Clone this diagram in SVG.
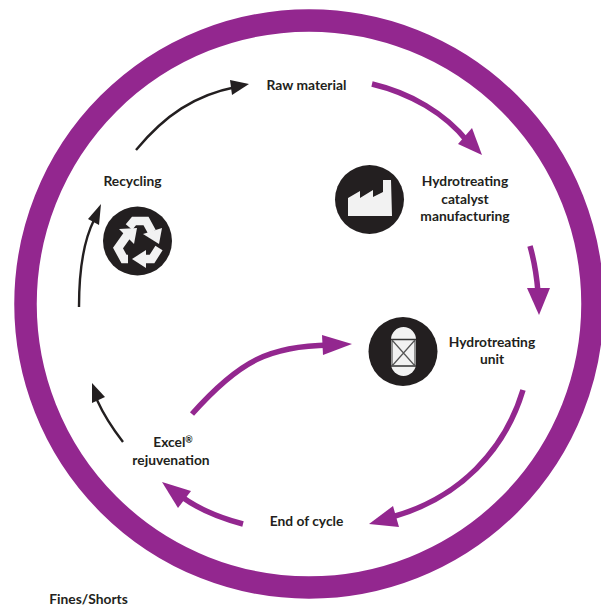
<svg xmlns="http://www.w3.org/2000/svg" width="601" height="607" viewBox="0 0 601 607">
<style>
text{font-family:"Lato","Liberation Sans",sans-serif;font-weight:700;font-size:13.800px;fill:#231f20;text-anchor:middle}
.p{fill:none;stroke:#93278f;stroke-width:5.500}
.k{fill:none;stroke:#231f20;stroke-width:2.400}
.pa{fill:#93278f}.ka{fill:#231f20}
.d{fill:#231f20}.w{fill:#f2f2f2}
.b{fill:none;stroke:#f2f2f2;stroke-width:8.500}
</style>
<rect width="601" height="607" fill="#fff"/>
<circle id="ring" cx="309" cy="304" r="283.500" fill="none" stroke="#93278f" stroke-width="22.500"/>
<g id="connectors">
<path class="p" d="M372 84C410 93 445 113 468 142"/><polygon class="pa" points="482,155 458,144 472,128"/>
<path class="p" d="M530 246Q536 267 538 292"/><polygon class="pa" points="539,315 527,288 550,288"/>
<path class="p" d="M523 390C505 450 460 498 392 517"/><polygon class="pa" points="369,524 393,506 399,527"/>
<path class="p" d="M243 524C220 518 200 510 182 497"/><polygon class="pa" points="162,482 191,491 178,508"/>
<path class="p" d="M192 414C240 360 270 346 330 345"/><polygon class="pa" points="352,344 322,335 323,355"/>
<path class="k" d="M123 442Q106 420 97 400"/><polygon class="ka" points="92,383 105,397 92,403"/>
<path class="k" d="M79 307C79 270 84 240 94 220"/><polygon class="ka" points="101,204 99,225 88,219"/>
<path class="k" d="M136 150C165 115 195 95 236 87"/><polygon class="ka" points="249,84 232,95 230,80"/>
</g>
<g id="raw-material"><text x="306.500" y="90">Raw material</text></g>
<g id="manufacturing">
<circle class="d" cx="369.500" cy="199.500" r="34.500"/>
<path class="w" d="M348 216V198L360 191V198L373 190V197L383 192V180H391L392 216Z"/>
<text x="465" y="186">Hydrotreating</text><text x="465" y="204">catalyst</text><text x="465" y="221">manufacturing</text>
</g>
<g id="hydrotreating-unit">
<circle class="d" cx="403" cy="351.500" r="34.500"/>
<rect class="w" x="391" y="327" width="25" height="49" rx="12.500"/>
<path d="M391 339.500H416M391 366H416" fill="none" stroke="#333" stroke-width="1.600"/>
<path d="M392 340L415 366M415 340L392 366M392 340V366M415 340V366" fill="none" stroke="#555" stroke-width="1.200"/>
<text x="492" y="347">Hydrotreating</text><text x="492" y="364">unit</text>
</g>
<g id="end-of-cycle"><text x="306.500" y="526">End of cycle</text></g>
<g id="excel"><text x="173" y="447">Excel<tspan font-size="9" dy="-4">®</tspan></text><text x="171" y="465">rejuvenation</text></g>
<g id="recycling">
<text x="132.500" y="186">Recycling</text>
<circle class="d" cx="137.500" cy="241" r="34.500"/>
<path class="b" d="M129 227L134 221H146L152 232"/><polygon class="w" points="143,234 162,228 159,244"/>
<path class="b" d="M128 234L118 248L124 259H128"/><polygon class="w" points="119,229 137,228 134,244"/>
<path class="b" d="M145 259H152L159 248"/><polygon class="w" points="132,259 146,250 146,268"/>
</g>
<g id="fines"><text x="88.500" y="604">Fines/Shorts</text></g>
</svg>
